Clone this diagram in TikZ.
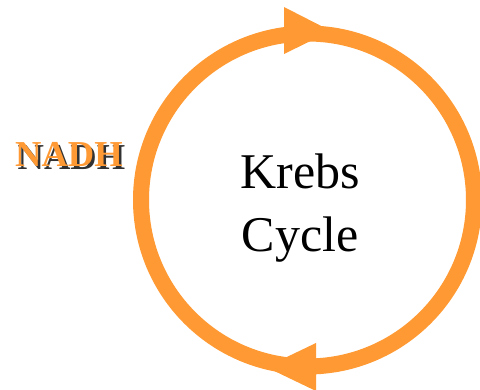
\documentclass[tikz,border=0pt]{standalone}
\usepackage{fontspec}
\setmainfont{Liberation Serif}
\definecolor{cycleorange}{RGB}{255,153,51}
\definecolor{shadowgray}{RGB}{50,50,50}
\begin{document}
\begin{tikzpicture}[x=1pt,y=-1pt,
  ring/.style={draw=cycleorange, line width=16pt},
  headtip/.style={fill=cycleorange, draw=none},
  nadhtext/.style={font=\fontsize{36.5}{40}\selectfont\bfseries, inner sep=0pt, anchor=base west},
  cycletext/.style={font=\fontsize{50}{63}\selectfont, align=center, inner sep=0pt}]
\useasboundingbox (0,0) rectangle (480,390);
\coordinate (centre) at (307.5,200);
\draw[ring] (centre) circle[radius=166.5];
\fill[headtip] (284,7) -- (331,31) -- (284,54) -- cycle;
\fill[headtip] (316,343) -- (266,367) -- (316,391) -- cycle;
\node[cycletext] (krebs) at (300,208) {Krebs\\Cycle};
\node[nadhtext, text=shadowgray] (nadhshadow) at (17.5,169.5) {NADH};
\node[nadhtext, text=cycleorange] (nadh) at (15,167) {NADH};
\end{tikzpicture}
\end{document}
